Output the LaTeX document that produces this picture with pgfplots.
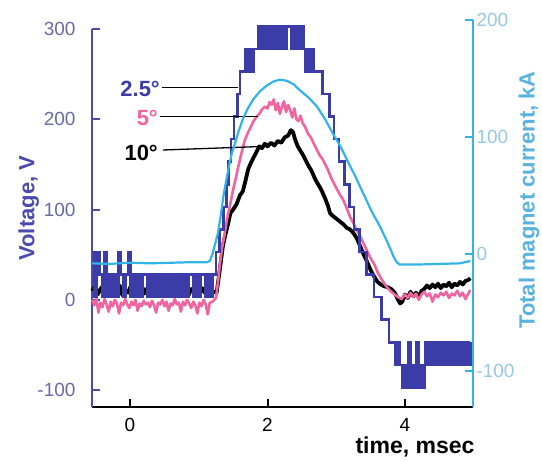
\documentclass[border=0pt]{standalone}
\usepackage{fontspec}
\setmainfont{Liberation Sans}
\usepackage{pgfplots}
\pgfplotsset{compat=1.18}
\definecolor{vblue}{RGB}{60,60,168}
\definecolor{vaxis}{RGB}{75,75,175}
\definecolor{vtick}{RGB}{105,105,165}
\definecolor{vpink}{RGB}{240,100,160}
\definecolor{vcyan}{RGB}{50,180,230}
\definecolor{ctick}{RGB}{150,200,228}
\definecolor{clabel}{RGB}{90,178,225}
\begin{document}
\begin{tikzpicture}
\path[use as bounding box] (-92pt,-55pt) rectangle (450pt,407pt);
\begin{axis}[
  at={(0pt,0pt)}, anchor=south west,
  scale only axis, width=381pt, height=378pt,
  xmin=-0.553, xmax=4.989, ymin=-118.6, ymax=300,
  axis x line=bottom, axis y line=left,
  axis line style={-},
  x axis line style={black, line width=2pt},
  y axis line style={vaxis, line width=2pt},
  tick align=inside, major tick length=8pt, minor tick num=0,
  xtick={0,2,4}, xticklabels={0,2,4},
  ytick={-100,0,100,200,300}, yticklabels={-100,0,100,200,300},
  xtick style={black, line width=2pt},
  ytick style={vaxis, line width=2pt},
  xticklabel style={font=\fontsize{19}{19}\selectfont, text=black, yshift=-8pt},
  yticklabel style={font=\fontsize{19}{19}\selectfont, text=vtick, xshift=-13pt},
  xlabel={time, msec},
  every axis x label/.style={at={(axis description cs:1.013,-0.106)}, anchor=east, font=\fontsize{23}{23}\selectfont\bfseries},
  ylabel={Voltage, V},
  every axis y label/.style={at={(axis description cs:-0.166,0.526)}, anchor=center, rotate=90, font=\fontsize{22}{22}\selectfont\bfseries, text=vaxis},
  clip=false,
]
% 10 deg (black)
\addplot[black, line width=3.8pt, line join=round] coordinates {
(-0.55,10) (-0.51,15) (-0.47,6) (-0.43,12) (-0.39,16) (-0.35,7) (-0.31,11) (-0.27,4) (-0.23,14) (-0.19,9)
(-0.15,16) (-0.11,5) (-0.07,11) (-0.03,8) (0.01,15) (0.05,6) (0.09,12) (0.13,9) (0.17,16) (0.21,7)
(0.25,13) (0.29,5) (0.33,11) (0.37,15) (0.41,8) (0.45,12) (0.49,4) (0.53,14) (0.57,9) (0.61,16)
(0.65,6) (0.69,11) (0.73,13) (0.77,7) (0.81,15) (0.85,5) (0.89,12) (0.93,9) (0.97,16) (1.01,6)
(1.05,13) (1.09,8) (1.13,14) (1.17,5) (1.21,9)
(1.26,8) (1.30,30) (1.35,59) (1.38,70) (1.42,82) (1.46,96) (1.50,100) (1.55,106) (1.60,116) (1.64,120)
(1.68,132) (1.72,145) (1.76,152) (1.80,158) (1.84,164) (1.88,170) (1.92,168) (1.96,173) (2.00,170) (2.05,174)
(2.10,171) (2.15,176) (2.20,174) (2.25,180) (2.30,182) (2.34,188) (2.37,186) (2.40,178) (2.44,170) (2.48,165)
(2.52,160) (2.56,154) (2.60,148) (2.64,143) (2.68,136) (2.72,130) (2.76,125) (2.80,119) (2.84,112) (2.88,104)
(2.91,96) (2.95,93) (3.00,90) (3.05,87) (3.10,84) (3.15,80) (3.20,78) (3.25,74) (3.30,68) (3.35,59)
(3.40,50) (3.45,42) (3.50,33) (3.55,26) (3.60,20) (3.65,17) (3.70,15) (3.75,14) (3.80,12) (3.85,8)
(3.90,0) (3.93,-4) (3.96,-2) (4.00,6) (4.04,2) (4.08,9) (4.12,4) (4.16,8) (4.20,3) (4.24,10)
(4.28,12) (4.32,16) (4.36,13) (4.40,17) (4.44,14) (4.48,18) (4.52,13) (4.56,17) (4.60,15) (4.64,19)
(4.68,14) (4.72,18) (4.76,16) (4.80,20) (4.84,17) (4.88,21) (4.92,22) (4.95,24)
};
% 5 deg (pink)
\addplot[vpink, line width=2.6pt, line join=round] coordinates {
(-0.55,0) (-0.52,-6) (-0.49,2) (-0.46,-14) (-0.43,-3) (-0.40,-8) (-0.37,1) (-0.34,-5) (-0.31,-13) (-0.28,-2)
(-0.25,-7) (-0.22,0) (-0.19,-4) (-0.16,-15) (-0.13,-3) (-0.10,-6) (-0.07,1) (-0.04,-5) (-0.01,-9) (0.02,-2)
(0.05,-6) (0.08,0) (0.11,-12) (0.14,-4) (0.17,-7) (0.20,-1) (0.23,-5) (0.26,-3) (0.29,-8) (0.32,-1)
(0.35,-6) (0.38,-14) (0.41,-3) (0.44,-5) (0.47,0) (0.50,-7) (0.53,-2) (0.56,-12) (0.59,-4) (0.62,-6)
(0.65,1) (0.68,-5) (0.71,-3) (0.74,-13) (0.77,-2) (0.80,-6) (0.83,0) (0.86,-4) (0.89,-9) (0.92,-2)
(0.95,-6) (0.98,-15) (1.01,-3) (1.04,-7) (1.07,0) (1.10,-5) (1.13,-16) (1.16,-3) (1.20,-2)
(1.25,2) (1.28,20) (1.31,41) (1.34,58) (1.37,70) (1.41,89) (1.45,103) (1.50,122) (1.54,135) (1.57,146)
(1.62,162) (1.67,177) (1.72,186) (1.76,192) (1.79,197) (1.84,203) (1.88,206) (1.92,211) (1.96,214) (2.00,212)
(2.03,219) (2.06,216) (2.09,222) (2.12,210) (2.15,218) (2.18,206) (2.21,214) (2.24,220) (2.27,208) (2.30,216)
(2.33,210) (2.36,202) (2.39,212) (2.42,200) (2.45,198) (2.48,204) (2.51,196) (2.55,191) (2.59,184) (2.63,180)
(2.68,172) (2.72,166) (2.76,160) (2.80,156) (2.84,150) (2.88,144) (2.92,136) (2.96,130) (3.00,124) (3.05,117)
(3.10,111) (3.15,102) (3.20,92) (3.25,85) (3.30,77) (3.35,70) (3.40,62) (3.45,54) (3.50,46) (3.55,40)
(3.60,31) (3.65,24) (3.70,18) (3.75,13) (3.80,9) (3.85,6) (3.90,3) (3.95,1)
(4.00,6) (4.04,2) (4.08,8) (4.12,3) (4.16,7) (4.20,0) (4.24,6) (4.28,9) (4.32,4) (4.36,7)
(4.40,-2) (4.44,6) (4.48,3) (4.52,8) (4.56,5) (4.60,9) (4.64,2) (4.68,7) (4.72,5) (4.76,10)
(4.80,4) (4.84,8) (4.88,1) (4.92,7) (4.95,11)
};
% 2.5 deg (blue)
\addplot[const plot, vblue, line width=2.6pt] coordinates {
(-0.550,53) (-0.515,3) (-0.480,53) (-0.445,28) (-0.410,3) (-0.375,53) (-0.340,3) (-0.305,28) (-0.270,3) (-0.235,28)
(-0.200,3) (-0.165,53) (-0.130,28) (-0.095,3) (-0.060,28) (-0.025,53) (0.010,3) (0.045,28) (0.080,3) (0.115,28)
(0.150,3) (0.185,28) (0.255,3) (0.290,28) (0.325,3) (0.360,28) (0.395,3) (0.430,28) (0.465,3) (0.500,28)
(0.535,3) (0.570,28) (0.605,3) (0.640,28) (0.675,3) (0.710,28) (0.745,3) (0.780,28) (0.815,3) (0.850,28)
(0.920,3) (0.955,28) (0.990,3) (1.025,28) (1.095,3) (1.130,28) (1.165,3)
(1.20,28) (1.25,53) (1.30,78) (1.36,103) (1.40,128) (1.43,153) (1.47,178) (1.51,203) (1.56,228) (1.60,253)
(1.68,278) (1.71,253) (1.74,278) (1.77,253) (1.80,278) (1.86,303)
(1.89,278) (1.92,303) (1.95,278) (1.98,303) (2.01,278) (2.04,303) (2.07,278) (2.10,303) (2.13,278) (2.16,303)
(2.19,278) (2.22,303) (2.25,278) (2.28,303) (2.34,278) (2.37,303) (2.40,278) (2.43,303) (2.46,278) (2.49,303)
(2.52,278) (2.55,253) (2.58,278) (2.61,253) (2.64,278) (2.67,253)
(2.80,228) (2.90,203) (2.97,178) (3.04,153) (3.12,128) (3.19,103) (3.26,78) (3.34,53) (3.44,28) (3.55,3)
(3.66,-22) (3.77,-47) (3.86,-72) (3.89,-47) (3.92,-72) (3.96,-97) (3.99,-72)
(4.02,-97) (4.05,-47) (4.08,-97) (4.11,-72) (4.14,-97) (4.17,-47) (4.20,-97) (4.23,-72) (4.26,-97) (4.29,-47)
(4.32,-72) (4.35,-47) (4.38,-72) (4.41,-47) (4.44,-72) (4.47,-47) (4.50,-72) (4.53,-47) (4.56,-72) (4.59,-47)
(4.62,-72) (4.65,-47) (4.68,-72) (4.71,-47) (4.74,-72) (4.77,-47) (4.80,-72) (4.83,-47) (4.86,-72) (4.89,-47)
(4.92,-72) (4.95,-47)
};
% annotations
\draw[black, line width=1.3pt] (axis cs:0.465,235) -- (axis cs:1.571,235);
\draw[black, line width=1.3pt] (axis cs:0.436,203) -- (axis cs:1.862,203);
\draw[black, line width=1.3pt] (axis cs:0.48,166) -- (axis cs:1.964,170);
\node[anchor=east, inner sep=0pt, text=vblue, font=\fontsize{22}{22}\selectfont\bfseries] at (axis cs:0.436,234) {2.5°};
\node[anchor=east, inner sep=0pt, text=vpink, font=\fontsize{22}{22}\selectfont\bfseries] at (axis cs:0.407,202) {5°};
\node[anchor=east, inner sep=0pt, text=black, font=\fontsize{22}{22}\selectfont\bfseries] at (axis cs:0.407,163) {10°};
\end{axis}
\begin{axis}[
  at={(0pt,0pt)}, anchor=south west,
  scale only axis, width=381pt, height=387pt,
  xmin=-0.553, xmax=4.989, ymin=-130.8, ymax=200,
  axis x line=none, axis y line=right,
  axis line style={-},
  y axis line style={vcyan, line width=2pt},
  tick align=inside, major tick length=8pt, minor tick num=0,
  ytick={-100,0,100,200}, yticklabels={-100,0,100,200},
  ytick style={vcyan, line width=2pt},
  yticklabel style={font=\fontsize{19}{19}\selectfont, text=ctick},
  ylabel={Total magnet current, kA},
  every axis y label/.style={at={(axis description cs:1.147,0.535)}, anchor=center, rotate=90, font=\fontsize{22}{22}\selectfont\bfseries, text=clabel},
]
\addplot[vcyan, line width=2.2pt, line join=round] coordinates {
(-0.55,-8) (-0.3,-8.5) (0,-7.5) (0.3,-8) (0.6,-7.5) (0.9,-7) (1.12,-7) (1.16,-6) (1.20,0) (1.24,9)
(1.28,18) (1.32,33) (1.36,50) (1.40,63) (1.44,75) (1.48,86) (1.53,95) (1.58,105) (1.64,115) (1.71,124)
(1.79,132) (1.89,139) (1.99,144) (2.09,147.5) (2.18,149) (2.28,148) (2.38,145) (2.47,140) (2.60,133.5) (2.72,126)
(2.84,115) (2.95,103) (3.06,92) (3.16,80) (3.28,66) (3.39,52) (3.51,37) (3.64,23) (3.76,8) (3.84,-3)
(3.88,-7) (3.92,-9) (4.2,-9) (4.5,-8.5) (4.8,-8) (4.95,-6)
};
\end{axis}
\end{tikzpicture}
\end{document}
